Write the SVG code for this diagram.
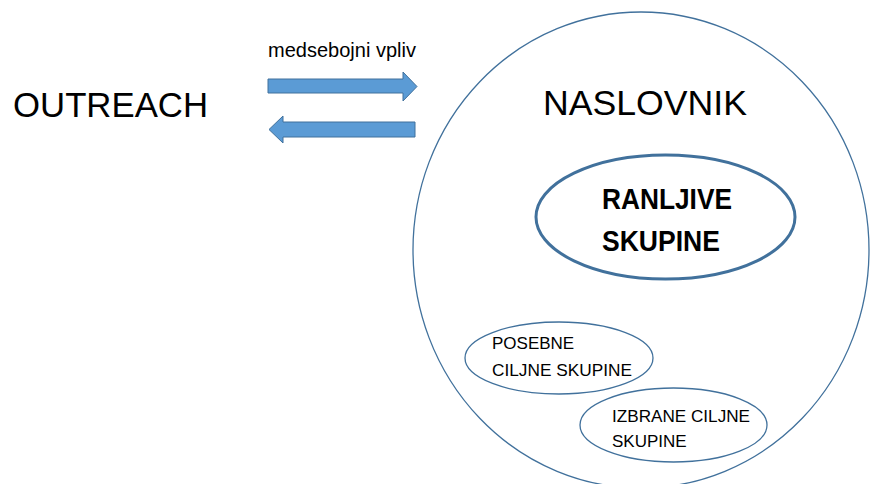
<svg xmlns="http://www.w3.org/2000/svg" width="870" height="484" viewBox="0 0 870 484">
<style>
text{font-family:"Liberation Sans",Arial,sans-serif;fill:#000}
.thin{fill:none;stroke:#41719C;stroke-width:1.3}
.arrow{fill:#5B9BD5;stroke:#41719C;stroke-width:1}
</style>
<rect width="870" height="484" fill="#fff"/>
<g id="outreach"><text x="13" y="117" font-size="35.5" textLength="195" lengthAdjust="spacingAndGlyphs">OUTREACH</text></g>
<g id="connectors">
<text x="268" y="57" font-size="19.5" textLength="148" lengthAdjust="spacingAndGlyphs">medsebojni vpliv</text>
<path class="arrow" d="M268,79 H403 V72 L417,86.5 L403,101 V93 H268 Z"/>
<path class="arrow" d="M415,122 H283 V116 L269,129.5 L283,143 V137 H415 Z"/>
</g>
<g id="naslovnik">
<ellipse class="thin" cx="641" cy="250" rx="228" ry="238"/>
<text x="543" y="115" font-size="35.5" textLength="204" lengthAdjust="spacingAndGlyphs">NASLOVNIK</text>
</g>
<g id="ranljive">
<ellipse cx="665.5" cy="217" rx="129.5" ry="62" fill="none" stroke="#41719C" stroke-width="3"/>
<text x="602" y="209" font-size="29" font-weight="bold" textLength="130" lengthAdjust="spacingAndGlyphs">RANLJIVE</text>
<text x="602" y="251" font-size="29" font-weight="bold" textLength="118" lengthAdjust="spacingAndGlyphs">SKUPINE</text>
</g>
<g id="posebne">
<ellipse class="thin" cx="559" cy="358" rx="94" ry="36"/>
<text x="492" y="349" font-size="17">POSEBNE</text>
<text x="492" y="376" font-size="17" textLength="140" lengthAdjust="spacingAndGlyphs">CILJNE SKUPINE</text>
</g>
<g id="izbrane">
<ellipse class="thin" cx="673.5" cy="425" rx="93.5" ry="37"/>
<text x="612" y="422" font-size="17" textLength="138" lengthAdjust="spacingAndGlyphs">IZBRANE CILJNE</text>
<text x="612" y="447" font-size="17">SKUPINE</text>
</g>
</svg>
